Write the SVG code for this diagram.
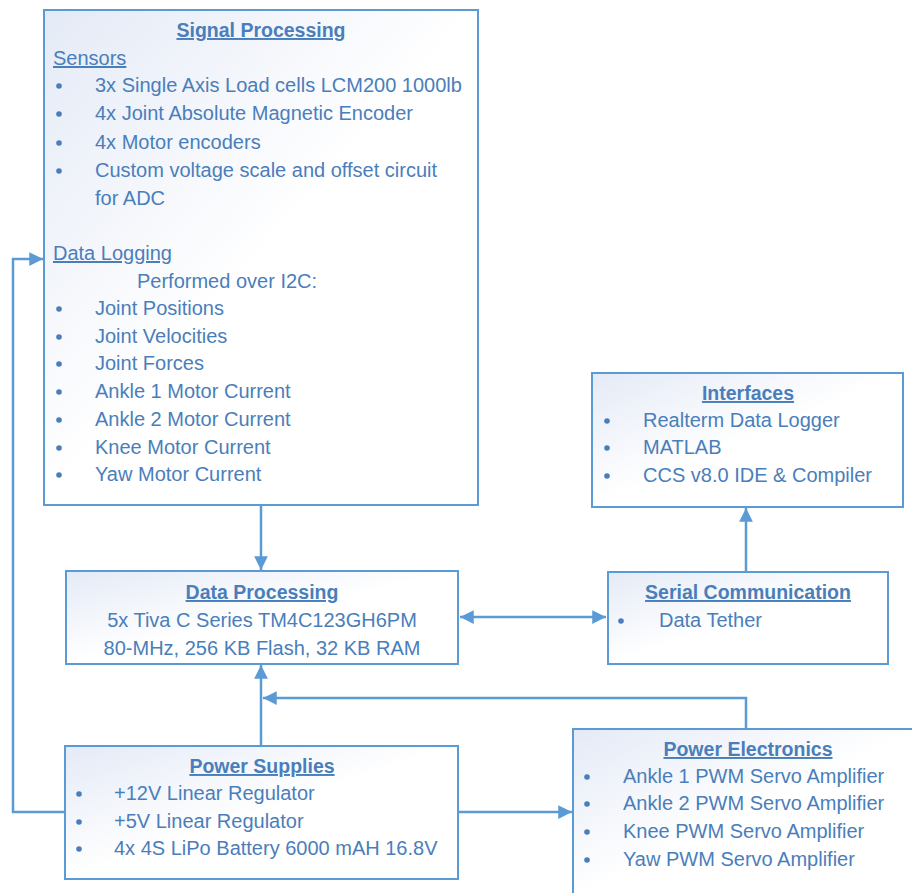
<svg xmlns="http://www.w3.org/2000/svg" width="912" height="893" viewBox="0 0 912 893">
<style>
text{font-family:"Liberation Sans",Arial,sans-serif;font-size:20px;fill:#4A7EBB}
.t{font-weight:bold;font-size:19.5px;text-decoration:underline;text-anchor:middle}
.u{text-decoration:underline}
.box{fill:url(#g);stroke:#5B9BD5;stroke-width:2}
.c{fill:none;stroke:#5B9BD5;stroke-width:2.5}
.b{fill:#4A7EBB}
</style>
<defs>
<linearGradient id="g" x1="0" y1="0" x2="1" y2="1">
<stop offset="0" stop-color="#E4EAF6"/>
<stop offset="0.5" stop-color="#FFFFFF"/>
<stop offset="1" stop-color="#FFFFFF"/>
</linearGradient>
<marker id="a" viewBox="0 0 10 10" refX="10" refY="5" markerWidth="5.5" markerHeight="5.5" orient="auto-start-reverse" markerUnits="strokeWidth">
<path d="M0,0L10,5L0,10z" fill="#5B9BD5"/>
</marker>
</defs>
<g id="connectors">
<path class="c" d="M261,505V570" marker-end="url(#a)"/>
<path class="c" d="M261,745V665" marker-end="url(#a)"/>
<path class="c" d="M746,729V698H263" marker-end="url(#a)"/>
<path class="c" d="M460,617H606" marker-start="url(#a)" marker-end="url(#a)"/>
<path class="c" d="M746,572V508" marker-end="url(#a)"/>
<path class="c" d="M65,812H13V259H43" marker-end="url(#a)"/>
<path class="c" d="M458,812H572" marker-end="url(#a)"/>
</g>
<g id="signal-processing">
<rect class="box" x="44" y="10" width="434" height="495"/>
<text class="t" x="261" y="37">Signal Processing</text>
<text class="u" x="53" y="65">Sensors</text>
<circle class="b" cx="59" cy="86" r="2.8"/><text x="95" y="92">3x Single Axis Load cells LCM200 1000lb</text>
<circle class="b" cx="59" cy="114" r="2.8"/><text x="95" y="120">4x Joint Absolute Magnetic Encoder</text>
<circle class="b" cx="59" cy="143" r="2.8"/><text x="95" y="149">4x Motor encoders</text>
<circle class="b" cx="59" cy="171" r="2.8"/><text x="95" y="177">Custom voltage scale and offset circuit</text>
<text x="95" y="205">for ADC</text>
<text class="u" x="53" y="260">Data Logging</text>
<text x="137" y="288">Performed over I2C:</text>
<circle class="b" cx="59" cy="309" r="2.8"/><text x="95" y="315">Joint Positions</text>
<circle class="b" cx="59" cy="337" r="2.8"/><text x="95" y="343">Joint Velocities</text>
<circle class="b" cx="59" cy="364" r="2.8"/><text x="95" y="370">Joint Forces</text>
<circle class="b" cx="59" cy="392" r="2.8"/><text x="95" y="398">Ankle 1 Motor Current</text>
<circle class="b" cx="59" cy="420" r="2.8"/><text x="95" y="426">Ankle 2 Motor Current</text>
<circle class="b" cx="59" cy="448" r="2.8"/><text x="95" y="454">Knee Motor Current</text>
<circle class="b" cx="59" cy="475" r="2.8"/><text x="95" y="481">Yaw Motor Current</text>
</g>
<g id="interfaces">
<rect class="box" x="592" y="373" width="311" height="134"/>
<text class="t" x="748" y="400">Interfaces</text>
<circle class="b" cx="607" cy="421" r="2.8"/><text x="643" y="427">Realterm Data Logger</text>
<circle class="b" cx="607" cy="448" r="2.8"/><text x="643" y="454">MATLAB</text>
<circle class="b" cx="607" cy="476" r="2.8"/><text x="643" y="482">CCS v8.0 IDE &amp; Compiler</text>
</g>
<g id="data-processing">
<rect class="box" x="66" y="571" width="392" height="93"/>
<text class="t" x="262" y="599">Data Processing</text>
<text x="262" y="627" text-anchor="middle">5x Tiva C Series TM4C123GH6PM</text>
<text x="262" y="655" text-anchor="middle">80-MHz, 256 KB Flash, 32 KB RAM</text>
</g>
<g id="serial-communication">
<rect class="box" x="608" y="572" width="280" height="92"/>
<text class="t" x="748" y="599">Serial Communication</text>
<circle class="b" cx="621" cy="621" r="2.8"/><text x="659" y="627">Data Tether</text>
</g>
<g id="power-supplies">
<rect class="box" x="65" y="746" width="393" height="133"/>
<text class="t" x="262" y="773">Power Supplies</text>
<circle class="b" cx="79" cy="794" r="2.8"/><text x="114" y="800">+12V Linear Regulator</text>
<circle class="b" cx="79" cy="822" r="2.8"/><text x="114" y="828">+5V Linear Regulator</text>
<circle class="b" cx="79" cy="849" r="2.8"/><text x="114" y="855">4x 4S LiPo Battery 6000 mAH 16.8V</text>
</g>
<g id="power-electronics">
<rect class="box" x="573" y="729" width="345" height="170"/>
<text class="t" x="748" y="756">Power Electronics</text>
<circle class="b" cx="587" cy="777" r="2.8"/><text x="623" y="783">Ankle 1 PWM Servo Amplifier</text>
<circle class="b" cx="587" cy="804" r="2.8"/><text x="623" y="810">Ankle 2 PWM Servo Amplifier</text>
<circle class="b" cx="587" cy="832" r="2.8"/><text x="623" y="838">Knee PWM Servo Amplifier</text>
<circle class="b" cx="587" cy="860" r="2.8"/><text x="623" y="866">Yaw PWM Servo Amplifier</text>
</g>
</svg>
